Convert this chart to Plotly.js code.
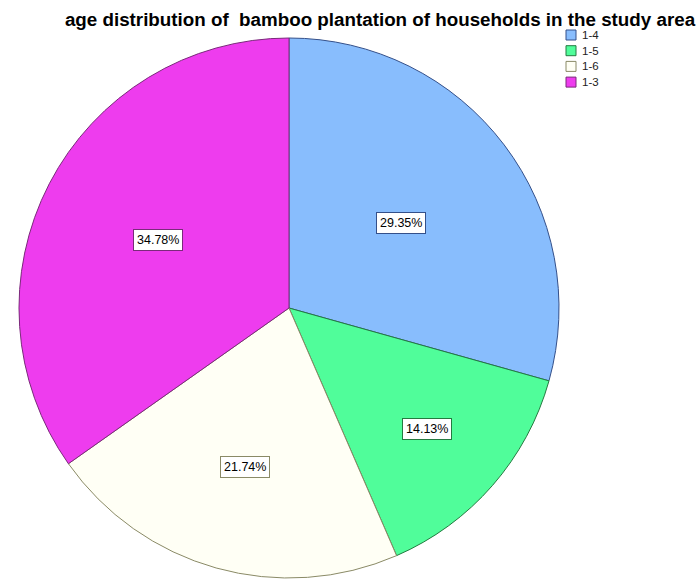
<!DOCTYPE html>
<html><head><meta charset="utf-8">
<script src="https://cdn.plot.ly/plotly-3.0.1.min.js"></script>
<style>body{margin:0;background:#fff}#c{width:699px;height:579px}</style>
</head><body><div id="c"></div>
<script>
const categories = ["1-4", "1-5", "1-6", "1-3"];
const counts = [27, 13, 20, 32];
const sliceColors = ["#88bdfd", "#50fd9a", "#fffff5", "#ee3cee"];
const edgeColors = ["#34508a", "#247a40", "#8a8a66", "#7a2a7a"];
const labelRadius = [0.52, 0.68, 0.61, 0.545];

const total = counts.reduce((a, b) => a + b, 0);
const W = 699, H = 579;
const domX = [19/W, 559/W], domY = [1 - 578/H, 1 - 38/H];

const trace = {
  type: "pie", labels: categories, values: counts, sort: false,
  direction: "clockwise", rotation: 0, textinfo: "none", hoverinfo: "label+percent",
  marker: {colors: sliceColors, line: {color: edgeColors, width: 1}},
  domain: {x: domX, y: domY}, showlegend: false
};

// percentage label boxes placed from the data's own angles
const cx = (domX[0] + domX[1]) / 2 * W, cy = (1 - (domY[0] + domY[1]) / 2) * H;
const R = Math.min((domX[1] - domX[0]) * W, (domY[1] - domY[0]) * H) / 2;
let cum = 0;
const annotations = counts.map((v, i) => {
  const mid = (cum + v / 2) / total * 2 * Math.PI; cum += v;
  const px = cx + labelRadius[i] * R * Math.sin(mid);
  const py = cy - labelRadius[i] * R * Math.cos(mid);
  return {
    x: px / W, y: 1 - py / H, xref: "paper", yref: "paper", showarrow: false,
    xanchor: "center", yanchor: "middle",
    text: (v / total * 100).toFixed(2) + "%",
    font: {family: "Liberation Sans, Arial", size: 12.5, color: "#000"},
    bgcolor: "#ffffff", bordercolor: edgeColors[i], borderwidth: 1, borderpad: 3
  };
});

// legend drawn as swatches + text
const legX = 566, legY0 = 35, legStep = 15.7, sw = 10;
const shapes = [];
categories.forEach((c, i) => {
  const yc = legY0 + i * legStep;
  shapes.push({type: "rect", xref: "paper", yref: "paper",
    x0: legX / W, x1: (legX + sw) / W, y0: 1 - (yc + sw / 2) / H, y1: 1 - (yc - sw / 2) / H,
    fillcolor: sliceColors[i], line: {color: edgeColors[i], width: 1}});
  annotations.push({x: (legX + sw + 4) / W, y: 1 - yc / H, xref: "paper", yref: "paper",
    xanchor: "left", yanchor: "middle", showarrow: false, text: c,
    font: {family: "Liberation Sans, Arial", size: 11.5, color: "#222"}});
});

const layout = {
  width: W, height: H, margin: {l: 0, r: 0, t: 0, b: 0},
  paper_bgcolor: "#fff", showlegend: false,
  title: {text: "<b>age distribution of  bamboo plantation of households in the study area</b>",
    font: {family: "Liberation Sans, Arial", size: 18.8, color: "#000"},
    x: 380 / W, xanchor: "center", y: 1 - 19 / H, yanchor: "middle"},
  annotations: annotations, shapes: shapes
};
Plotly.newPlot("c", [trace], layout, {staticPlot: true});
</script></body></html>
